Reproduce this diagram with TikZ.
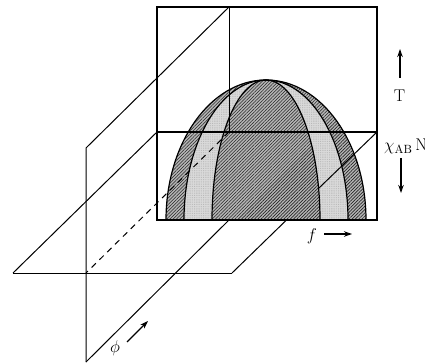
\RequirePackage{fix-cm}
\documentclass[tikz,border=0pt]{standalone}
\usetikzlibrary{patterns.meta,arrows.meta}
\begin{document}
\begin{tikzpicture}[x=1pt,y=-1pt,
  planeline/.style={line width=1pt,line join=round},
  boxline/.style={line width=1.5pt},
  domeline/.style={line width=1.2pt},
  hiddenline/.style={line width=1pt,dash pattern=on 6pt off 5pt},
  arr/.style={line width=1.1pt,-{Stealth[length=8pt,width=5.5pt]}},
  lab/.style={font=\fontsize{17}{19}\selectfont,inner sep=0pt},
  darkzone/.style={fill=gray!58,postaction={pattern={Lines[angle=45,distance=2.3pt,line width=0.6pt]},pattern color=black!85}},
  lightzone/.style={fill=gray!30,postaction={pattern={Dots[distance=1.8pt,radius=0.35pt]},pattern color=gray!75}}]
\useasboundingbox (0,0) rectangle (425,363);
% coordinates
\coordinate (hpA) at (13,273);
\coordinate (hpB) at (232,273);
\coordinate (hpC) at (377,132);
\coordinate (hpD) at (157,132);
\coordinate (hpE) at (319,188);
\coordinate (hpF) at (286.5,220);
\coordinate (vpA) at (86,148);
\coordinate (vpB) at (229,7);
\coordinate (vpC) at (229,220);
\coordinate (vpD) at (86,362);
\coordinate (vpM) at (229,132);
\coordinate (ixB) at (86,273);
\coordinate (bTL) at (157,7);
\coordinate (bBR) at (377,220);
% planes
\draw[planeline] (vpD) -- (vpA) -- (vpB);
\draw[planeline] (vpD) -- (vpC);
\draw[planeline] (hpA) -- (hpB);
\draw[planeline] (hpA) -- (hpD);
\draw[planeline] (hpF) -- (hpB);
% dome
\path[darkzone] (166,220) arc[start angle=180,end angle=0,x radius=100pt,y radius=140pt] -- cycle;
\path[lightzone] (184,220) arc[start angle=180,end angle=0,x radius=82pt,y radius=140pt] -- cycle;
\path[darkzone] (212,220) arc[start angle=180,end angle=0,x radius=54pt,y radius=140pt] -- cycle;
\draw[domeline] (166,220) arc[start angle=180,end angle=0,x radius=100pt,y radius=140pt];
\draw[domeline] (184,220) arc[start angle=180,end angle=0,x radius=82pt,y radius=140pt];
\draw[domeline] (212,220) arc[start angle=180,end angle=0,x radius=54pt,y radius=140pt];
% lines in front of dome
\draw[boxline] (bTL) rectangle (bBR);
\draw[boxline] (hpD) -- (hpC);
\draw[planeline] (vpB) -- (vpM);
\draw[planeline] (hpC) -- (hpE);
\draw[hiddenline] (vpM) -- (ixB);
% labels and arrows
\coordinate (tT) at (400,78);
\coordinate (tH) at (400,49);
\draw[arr] (tT) -- (tH);
\node[lab] (labT) at (399.5,95.5) {T};
\node[lab,anchor=base west] (labX) at (384,151) {$\chi_{\mathrm{AB}}\,\mathrm{N}$};
\coordinate (dT) at (401,158);
\coordinate (dH) at (401,193);
\draw[arr] (dT) -- (dH);
\node[lab] (labf) at (312,236) {$f$};
\coordinate (fT) at (324,234);
\coordinate (fH) at (352,234);
\draw[arr] (fT) -- (fH);
\node[lab] (labphi) at (115,348) {$\phi$};
\coordinate (pT) at (127,342);
\coordinate (pH) at (148,321);
\draw[arr] (pT) -- (pH);
\end{tikzpicture}
\end{document}
